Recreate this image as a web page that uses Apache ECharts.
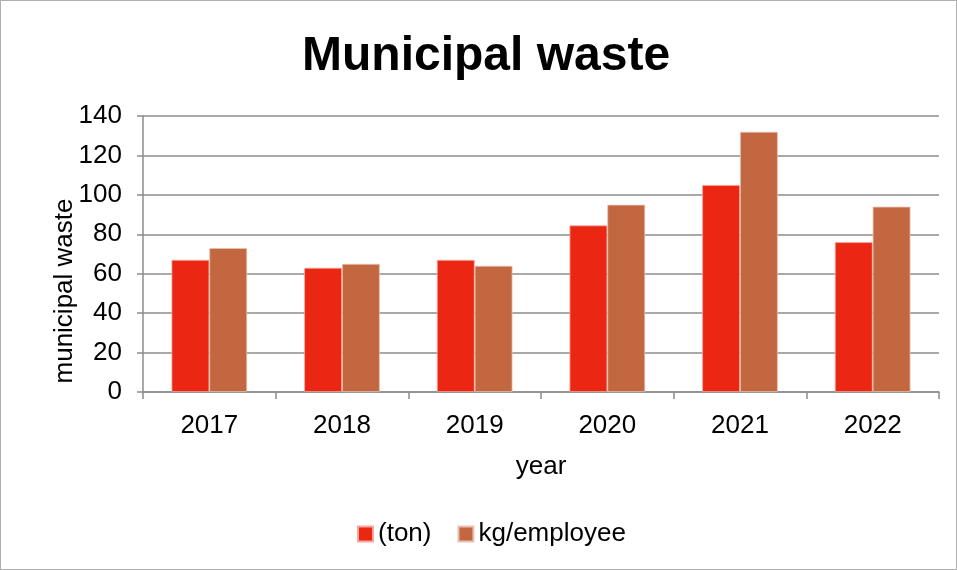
<!DOCTYPE html>
<html>
<head>
<meta charset="utf-8">
<script src="https://cdn.jsdelivr.net/npm/echarts@6/dist/echarts.min.js"></script>
<style>
  html, body { margin: 0; padding: 0; background: #fff; }
  #chart { width: 957px; height: 570px; box-sizing: border-box; border: 1px solid #b0b0b0; }
</style>
</head>
<body>
<div id="chart"></div>
<script>
// Municipal waste per year
const years = ['2017', '2018', '2019', '2020', '2021', '2022'];
const tonValues = [67, 63, 67, 84.5, 105, 76];
const kgPerEmployee = [73, 65, 64, 95, 132, 94];
const yTicks = { min: 0, max: 140, interval: 20 };

const font = '"Liberation Sans", Arial, sans-serif';
const chart = echarts.init(document.getElementById('chart'));

chart.setOption({
  animation: false,
  textStyle: { fontFamily: font },
  title: {
    text: 'Municipal waste',
    left: 296,
    top: 27,
    textStyle: { fontFamily: font, fontSize: 48, fontWeight: 'bold', color: '#000' }
  },
  legend: {
    bottom: 17,
    left: 351,
    itemWidth: 15,
    itemHeight: 15,
    itemGap: 26,
    icon: 'rect',
    textStyle: { fontFamily: font, fontSize: 26, color: '#000' },
    data: ['(ton)', 'kg/employee']
  },
  grid: { left: 142, right: 17, top: 115, bottom: 177, containLabel: false },
  xAxis: {
    type: 'category',
    data: years,
    name: 'year',
    nameLocation: 'middle',
    nameGap: 62,
    nameMoveOverlap: false,
    nameTextStyle: { fontFamily: font, fontSize: 26, color: '#000' },
    axisLine: { lineStyle: { color: '#8c8c8c', width: 1.5 } },
    axisTick: { show: true, length: 7, lineStyle: { color: '#8c8c8c', width: 1.5 } },
    axisLabel: { fontFamily: font, fontSize: 26, color: '#000', margin: 21 }
  },
  yAxis: {
    type: 'value',
    min: yTicks.min,
    max: yTicks.max,
    interval: yTicks.interval,
    name: 'municipal waste',
    nameLocation: 'middle',
    nameGap: 65,
    nameRotate: 90,
    nameMoveOverlap: false,
    nameTextStyle: { fontFamily: font, fontSize: 26, color: '#000', padding: [0, 74, 0, 0] },
    axisLine: { show: true, lineStyle: { color: '#8c8c8c', width: 1.5 } },
    axisTick: { show: true, length: 6, lineStyle: { color: '#8c8c8c', width: 1.5 } },
    axisLabel: { fontFamily: font, fontSize: 26, color: '#000', margin: 21 },
    splitLine: { lineStyle: { color: '#8c8c8c', width: 1.5 } }
  },
  series: [
    {
      name: '(ton)',
      type: 'bar',
      data: tonValues,
      barGap: '0%',
      barCategoryGap: '43%',
      itemStyle: { color: '#EB2714', borderColor: '#f6a79c', borderWidth: 0.8 }
    },
    {
      name: 'kg/employee',
      type: 'bar',
      data: kgPerEmployee,
      barGap: '0%',
      barCategoryGap: '43%',
      itemStyle: { color: '#C2673F', borderColor: '#e8c2b0', borderWidth: 0.8 }
    }
  ]
});
</script>
</body>
</html>
